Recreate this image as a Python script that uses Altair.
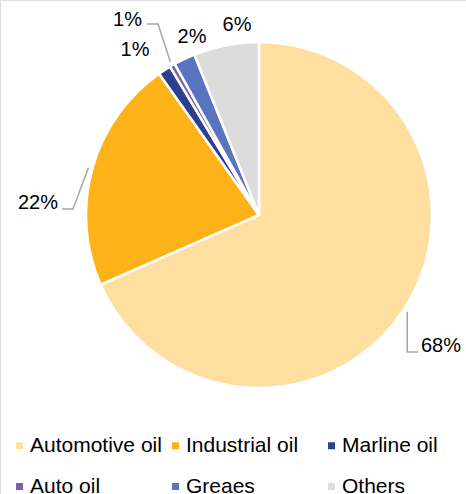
import math
import altair as alt
import pandas as pd

# ---- data ----
categories = ["Automotive oil", "Industrial oil", "Marline oil", "Auto oil", "Greaes", "Others"]
values = [68.4, 21.8, 1.2, 0.5, 2.0, 6.1]
labels = ["68%", "22%", "1%", "1%", "2%", "6%"]
colors = ["#FFDF9F", "#FDB317", "#2E3F91", "#7E5FA8", "#5874BE", "#DCDCDC"]

# ---- layout (pixels) ----
W, H = 466, 494
CX, CY, R = 259, 215, 173
FONT = "Liberation Sans"
# label text anchor (x, y, align) and optional leader elbow/end
label_layout = {
    "Automotive oil": dict(x=421, y=346, align="left", elbow_y=352, end_x=418),
    "Industrial oil": dict(x=58, y=203, align="right", elbow=(73, 209), end_x=62),
    "Marline oil": dict(x=135, y=50, align="center"),
    "Auto oil": dict(x=142, y=20, align="right", elbow=(158, 24), end_x=147),
    "Greaes": dict(x=192, y=37, align="center"),
    "Others": dict(x=237, y=25, align="center"),
}

df = pd.DataFrame({"category": categories, "value": values, "label": labels,
                   "idx": list(range(len(categories)))})

total = sum(values)
cum = 0.0
lab_rows, line_rows = [], []
for c, v, lab in zip(categories, values, labels):
    mid = (cum + v / 2) / total * 2 * math.pi
    cum += v
    L = label_layout[c]
    lab_rows.append(dict(category=c, label=lab, x=L["x"], y=L["y"], align=L["align"]))
    sx = CX + (R + 4) * math.sin(mid)
    sy = CY - (R + 4) * math.cos(mid)
    if "elbow_y" in L:
        pts = [(sx, sy), (sx, L["elbow_y"]), (L["end_x"], L["elbow_y"])]
    elif "elbow" in L:
        ex, ey = L["elbow"]
        pts = [(sx, sy), (ex, ey), (L["end_x"], ey)]
    else:
        pts = []
    for i, (px, py) in enumerate(pts):
        line_rows.append(dict(category=c, o=i, x=px, y=py))

lab_df = pd.DataFrame(lab_rows)
line_df = pd.DataFrame(line_rows)

xs = alt.Scale(domain=[0, W])
ys = alt.Scale(domain=[0, H], reverse=True)

pie = alt.Chart(df).mark_arc(radius=R, stroke="white", strokeWidth=2.5).encode(
    theta=alt.Theta("value:Q", stack=True),
    order=alt.Order("idx:Q"),
    x=alt.value(CX),
    y=alt.value(CY),
    color=alt.Color(
        "category:N",
        scale=alt.Scale(domain=categories, range=colors),
        sort=categories,
        legend=alt.Legend(
            title=None, orient="none", direction="horizontal", legendX=9, legendY=435, columns=3,
            symbolType="square", symbolSize=49, symbolStrokeWidth=0,
            labelFont=FONT, labelFontSize=21, labelColor="#000000",
            labelOffset=0, labelLimit=400, gridAlign="all",
            columnPadding=3, rowPadding=19, padding=0,
        ),
    ),
)

lines = alt.Chart(line_df).mark_line(color="#A6A6A6", strokeWidth=1.5).encode(
    x=alt.X("x:Q", scale=xs, axis=None),
    y=alt.Y("y:Q", scale=ys, axis=None),
    detail="category:N",
    order="o:Q",
)

def text_layer(align):
    return alt.Chart(lab_df[lab_df["align"] == align]).mark_text(
        font=FONT, fontSize=20, color="#000000", align=align, baseline="middle"
    ).encode(
        x=alt.X("x:Q", scale=xs, axis=None),
        y=alt.Y("y:Q", scale=ys, axis=None),
        text="label:N",
    )

chart = alt.layer(pie, lines, text_layer("left"), text_layer("right"), text_layer("center")).properties(
    width=W, height=H, padding=0, autosize=alt.AutoSizeParams(type="none")
).configure_view(stroke=None).configure(background="white")

chart.save("out.html", embed_options={"renderer": "svg", "actions": False})
